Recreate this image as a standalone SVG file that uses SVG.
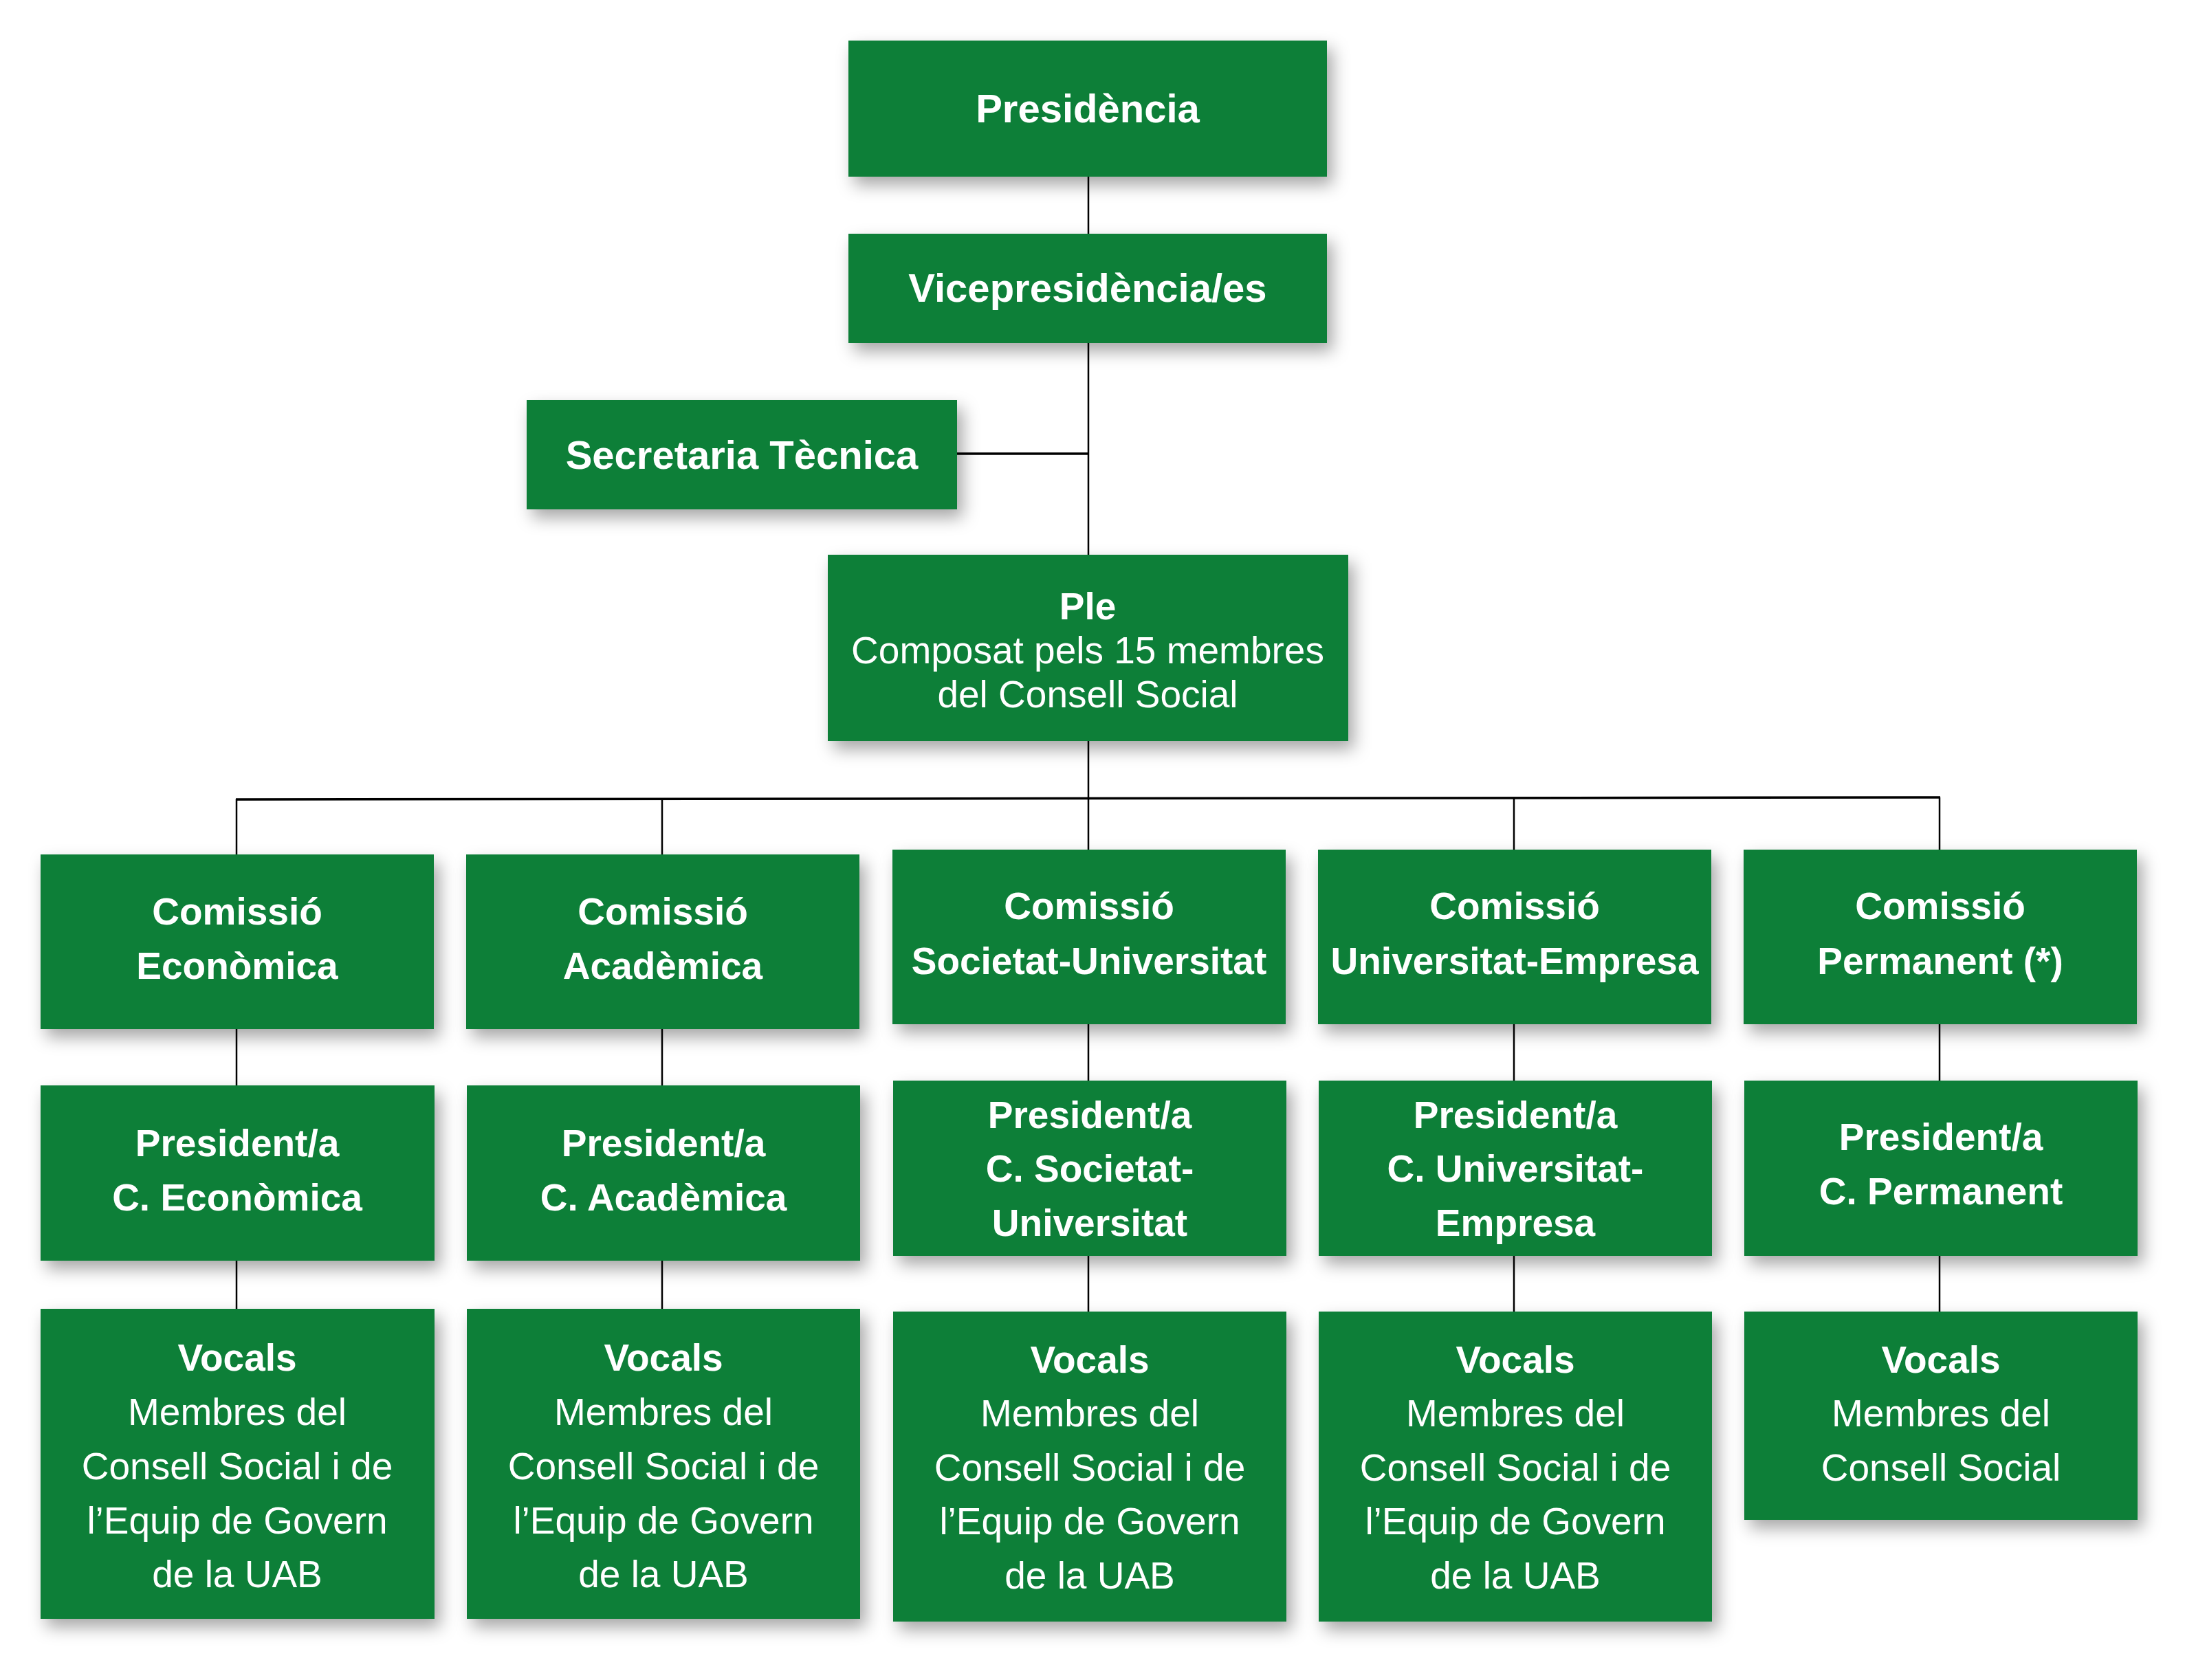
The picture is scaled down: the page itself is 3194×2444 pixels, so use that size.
<svg xmlns="http://www.w3.org/2000/svg" width="3194" height="2444" viewBox="0 0 3194 2444">
<defs>
<filter id="sh" x="-20%" y="-30%" width="140%" height="160%">
<feDropShadow dx="8" dy="12" stdDeviation="12" flood-color="#000" flood-opacity="0.35"/>
</filter>
<style>
.box{fill:#0b7f37;filter:url(#sh);}
.b{font-family:"Liberation Sans",Arial,sans-serif;font-weight:bold;font-size:55px;fill:#fff;text-anchor:middle;}
.t{font-size:58px;}
.r{font-family:"Liberation Sans",Arial,sans-serif;font-size:55px;fill:#fff;text-anchor:middle;}
.ln{stroke:#000;stroke-width:2.5;fill:none;}
.lh{stroke:#000;stroke-width:3.5;fill:none;}
</style>
</defs>
<rect width="3194" height="2444" fill="#fff"/>
<g id="connectors">
<line class="ln" x1="1583" y1="257" x2="1583" y2="340"/>
<line class="ln" x1="1583" y1="499" x2="1583" y2="807"/>
<line class="lh" x1="1392" y1="660" x2="1583" y2="660"/>
<line class="ln" x1="1583" y1="1078" x2="1583" y2="1162"/>
<line class="lh" x1="343" y1="1163" x2="2822" y2="1160"/>
<line class="ln" x1="344" y1="1162" x2="344" y2="1243"/>
<line class="ln" x1="963" y1="1162" x2="963" y2="1243"/>
<line class="ln" x1="1583" y1="1162" x2="1583" y2="1236"/>
<line class="ln" x1="2202" y1="1161" x2="2202" y2="1236"/>
<line class="ln" x1="2821" y1="1160" x2="2821" y2="1236"/>
<line class="ln" x1="344" y1="1497" x2="344" y2="1579"/>
<line class="ln" x1="963" y1="1497" x2="963" y2="1579"/>
<line class="ln" x1="1583" y1="1490" x2="1583" y2="1572"/>
<line class="ln" x1="2202" y1="1490" x2="2202" y2="1572"/>
<line class="ln" x1="2821" y1="1490" x2="2821" y2="1572"/>
<line class="ln" x1="344" y1="1834" x2="344" y2="1904"/>
<line class="ln" x1="963" y1="1834" x2="963" y2="1904"/>
<line class="ln" x1="1583" y1="1827" x2="1583" y2="1908"/>
<line class="ln" x1="2202" y1="1827" x2="2202" y2="1908"/>
<line class="ln" x1="2821" y1="1827" x2="2821" y2="1908"/>
</g>
<g id="presidencia"><rect class="box" x="1234" y="59" width="696" height="198"/><text class="b t" x="1582" y="178">Presidència</text></g>
<g id="vicepresidencia"><rect class="box" x="1234" y="340" width="696" height="159"/><text class="b t" x="1582" y="439">Vicepresidència/es</text></g>
<g id="secretaria"><rect class="box" x="766" y="582" width="626" height="159"/><text class="b t" x="1079" y="682">Secretaria Tècnica</text></g>
<g id="ple"><rect class="box" x="1204" y="807" width="757" height="271"/><text class="b" x="1582" y="901">Ple</text><text class="r" x="1582" y="965">Composat pels 15 membres</text><text class="r" x="1582" y="1029">del Consell Social</text></g>

<g id="com-economica"><rect class="box" x="59" y="1243" width="572" height="254"/><text class="b" x="345" y="1345">Comissió</text><text class="b" x="345" y="1424">Econòmica</text></g>
<g id="com-academica"><rect class="box" x="678" y="1243" width="572" height="254"/><text class="b" x="964" y="1345">Comissió</text><text class="b" x="964" y="1424">Acadèmica</text></g>
<g id="com-societat"><rect class="box" x="1298" y="1236" width="572" height="254"/><text class="b" x="1584" y="1337">Comissió</text><text class="b" x="1584" y="1417">Societat-Universitat</text></g>
<g id="com-empresa"><rect class="box" x="1917" y="1236" width="572" height="254"/><text class="b" x="2203" y="1337">Comissió</text><text class="b" x="2203" y="1417">Universitat-Empresa</text></g>
<g id="com-permanent"><rect class="box" x="2536" y="1236" width="572" height="254"/><text class="b" x="2822" y="1337">Comissió</text><text class="b" x="2822" y="1417">Permanent (*)</text></g>

<g id="pres-economica"><rect class="box" x="59" y="1579" width="573" height="255"/><text class="b" x="345" y="1682">President/a</text><text class="b" x="345" y="1761">C. Econòmica</text></g>
<g id="pres-academica"><rect class="box" x="679" y="1579" width="572" height="255"/><text class="b" x="965" y="1682">President/a</text><text class="b" x="965" y="1761">C. Acadèmica</text></g>
<g id="pres-societat"><rect class="box" x="1299" y="1572" width="572" height="255"/><text class="b" x="1585" y="1641">President/a</text><text class="b" x="1585" y="1719">C. Societat-</text><text class="b" x="1585" y="1798">Universitat</text></g>
<g id="pres-empresa"><rect class="box" x="1918" y="1572" width="572" height="255"/><text class="b" x="2204" y="1641">President/a</text><text class="b" x="2204" y="1719">C. Universitat-</text><text class="b" x="2204" y="1798">Empresa</text></g>
<g id="pres-permanent"><rect class="box" x="2537" y="1572" width="572" height="255"/><text class="b" x="2823" y="1673">President/a</text><text class="b" x="2823" y="1752">C. Permanent</text></g>

<g id="vocals-economica"><rect class="box" x="59" y="1904" width="573" height="451"/><text class="b" x="345" y="1994">Vocals</text><text class="r" x="345" y="2073">Membres del</text><text class="r" x="345" y="2152">Consell Social i de</text><text class="r" x="345" y="2231">l’Equip de Govern</text><text class="r" x="345" y="2309">de la UAB</text></g>
<g id="vocals-academica"><rect class="box" x="679" y="1904" width="572" height="451"/><text class="b" x="965" y="1994">Vocals</text><text class="r" x="965" y="2073">Membres del</text><text class="r" x="965" y="2152">Consell Social i de</text><text class="r" x="965" y="2231">l’Equip de Govern</text><text class="r" x="965" y="2309">de la UAB</text></g>
<g id="vocals-societat"><rect class="box" x="1299" y="1908" width="572" height="451"/><text class="b" x="1585" y="1997">Vocals</text><text class="r" x="1585" y="2075">Membres del</text><text class="r" x="1585" y="2154">Consell Social i de</text><text class="r" x="1585" y="2232">l’Equip de Govern</text><text class="r" x="1585" y="2311">de la UAB</text></g>
<g id="vocals-empresa"><rect class="box" x="1918" y="1908" width="572" height="451"/><text class="b" x="2204" y="1997">Vocals</text><text class="r" x="2204" y="2075">Membres del</text><text class="r" x="2204" y="2154">Consell Social i de</text><text class="r" x="2204" y="2232">l’Equip de Govern</text><text class="r" x="2204" y="2311">de la UAB</text></g>
<g id="vocals-permanent"><rect class="box" x="2537" y="1908" width="572" height="303"/><text class="b" x="2823" y="1997">Vocals</text><text class="r" x="2823" y="2075">Membres del</text><text class="r" x="2823" y="2154">Consell Social</text></g>
</svg>
